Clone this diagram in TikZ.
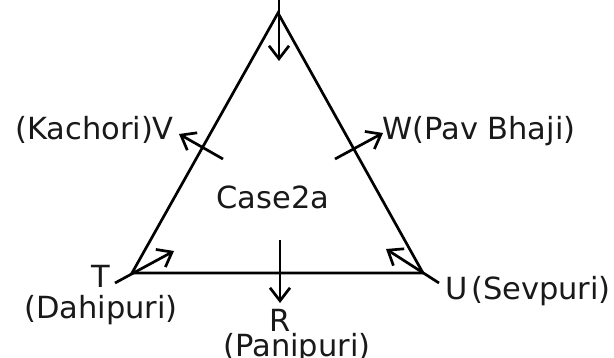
\documentclass[tikz,border=0pt]{standalone}
\usepackage{fontspec}
\setmainfont{DejaVu Sans}
\usetikzlibrary{arrows.meta}
\begin{document}
\begin{tikzpicture}[x=1pt,y=-1pt,
  edge/.style={line width=2.7pt, line join=miter},
  arr/.style={line width=2.7pt, -{Straight Barb[length=13pt,width=20pt]}},
  lbl/.style={inner sep=0pt, font=\fontsize{30.5}{36}\selectfont, text=black!90}]
\useasboundingbox (0,0) rectangle (614,358);
% vertices
\coordinate (A) at (278,13);
\coordinate (T) at (132,273);
\coordinate (U) at (423,273);
% arrow end points
\coordinate (topS) at (279,-2);
\coordinate (topE) at (279,61);
\coordinate (rS) at (280,240);
\coordinate (rE) at (280,303);
\coordinate (vS) at (223,159);
\coordinate (vE) at (179,134);
\coordinate (wS) at (335,159);
\coordinate (wE) at (383,133);
\coordinate (tS) at (115,283);
\coordinate (tE) at (174,251);
\coordinate (uS) at (439,283);
\coordinate (uE) at (386,249);
% triangle
\draw[edge] (A) -- (T) -- (U) -- cycle;
% arrows
\draw[arr] (topS) -- (topE);
\draw[arr] (rS) -- (rE);
\draw[arr] (vS) -- (vE);
\draw[arr] (wS) -- (wE);
\draw[arr] (tS) -- (tE);
\draw[arr] (uS) -- (uE);
% labels
\node[lbl, anchor=base east] (V) at (174,140) {(Kachori)V};
\node[lbl, anchor=base west] (W) at (382,140) {W(Pav Bhaji)};
\node[lbl, anchor=base] (case) at (273,209) {Case2a};
\node[lbl, anchor=base] (Tl) at (101,288) {T};
\node[lbl, anchor=base] (Dl) at (101,319) {(Dahipuri)};
\node[lbl, anchor=base] (Rl) at (280,332) {R};
\node[lbl, anchor=base] (Pl) at (297,357) {(Panipuri)};
\node[lbl, anchor=base west] (Ul) at (445,300) {U\hspace{0.12em}(Sevpuri)};
\end{tikzpicture}
\end{document}
